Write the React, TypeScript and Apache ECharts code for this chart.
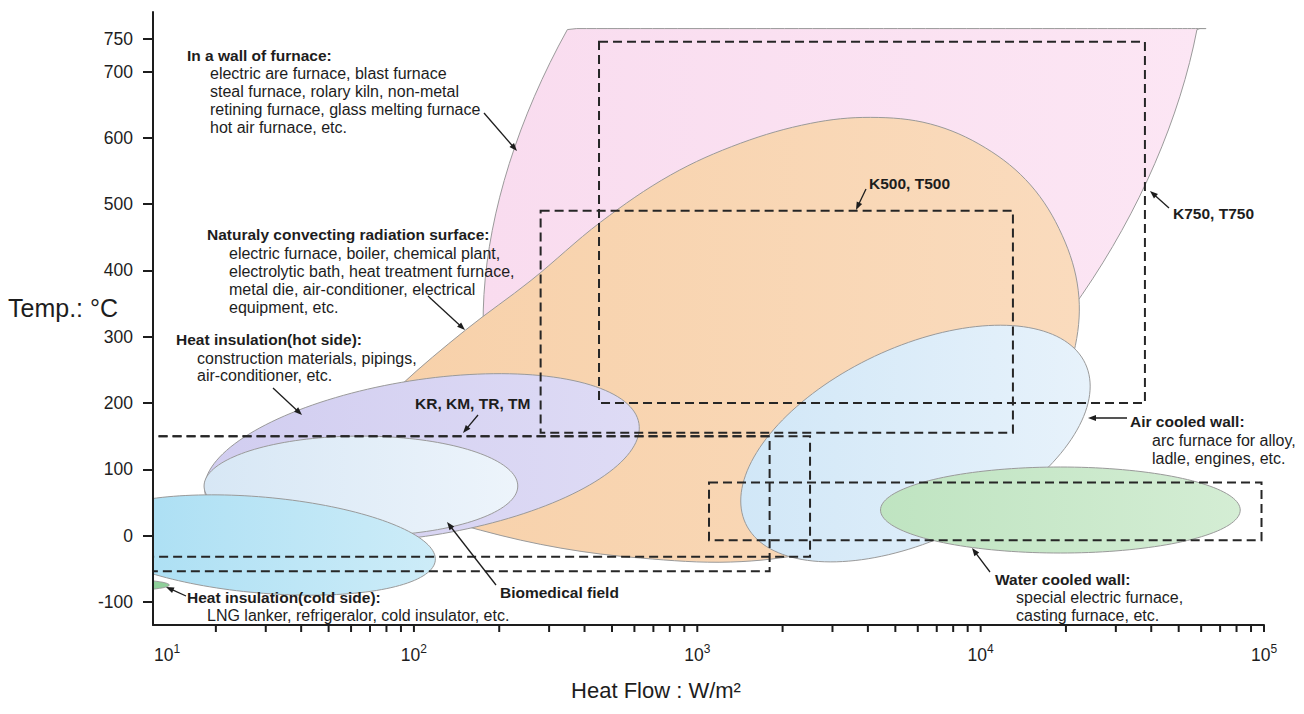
import React, { useEffect, useRef } from 'react';
import * as echarts from 'echarts';

// ---------------- axes ----------------
const X_MIN = 12;
const X_MAX = 100000;
const Y_MIN = -135;
const Y_MAX = 790;
const Y_TICK_VALUES = [-100, 0, 100, 200, 300, 400, 500, 600, 700, 750];
const X_TICK_DECADES = [10, 100, 1000, 10000];
const X_TICK_STEPS = [2, 3, 4, 5, 6, 7, 8, 9, 10];
const X_TITLE = 'Heat Flow : W/m²';
const Y_TITLE = 'Temp.: °C';

// ---------------- application regions ----------------
// ellipse: centre heat flow (W/m²), centre temperature (°C),
// semi-axis u (decades, °C), conjugate semi-axis v (decades, °C)
const FURNACE_WALL = [3311, 612, 1.1425, 0, 0.5677, 648.9];
const FURNACE_WALL_TEMP_LIMITS = [250, 765];
const HOT_SIDE_INSULATION = [106.7, 117, 0.766, 51.9, 0.043, -116.2];
const BIOMEDICAL_FIELD = [65, 74.7, 0.5536, 0, 0, -75.4];
const COLD_SIDE_EDGE = [8.55, -74.7, 0.2045, 0, 0, 9];
const COLD_SIDE_INSULATION = [28.9, -14.3, 0.6146, -23.1, -0.0148, -72.1];
const AIR_COOLED_WALL = [5888, 138.8, 0.5994, 120.7, 0.1446, -131.6];
const WATER_COOLED_WALL = [19115, 38.5, 0.6347, 0, 0, 64.9];

// naturally convecting radiation surface: outline (heat flow W/m², temp °C)
const NATURAL_CONVECTION_HF = [51, 90, 152, 259, 456, 805, 1422, 2512, 4085, 6650, 10400, 15000, 19400, 22100, 21600, 18400, 13300, 8490, 4810, 2512, 1312, 631, 330, 172, 90, 60];
const NATURAL_CONVECTION_TEMP = [121, 227, 310, 385, 473, 544, 592, 622, 631, 621, 585, 529, 453, 370, 287, 204, 129, 61, 8, -26, -40, -34, -19, 8, 46, 84];

// ---------------- product ranges: heat flow min, max, temp min, max ----------------
const RANGE_K750 = [450, 38000, 200, 745];
const RANGE_K500 = [280, 13000, 155, 490];
const RANGE_KR_A = [10, 2500, -32, 150];
const RANGE_KR_B = [10, 1800, -54, 150];
const RANGE_WATER = [1100, 98000, -7, 80];

// ---------------- styling / layout ----------------
const FONT = '"Liberation Sans", Arial, Helvetica, sans-serif';
const INK = '#1d1d1d';

const REGIONS: any[] = [
  { ellipse: FURNACE_WALL, limits: FURNACE_WALL_TEMP_LIMITS, colors: ['#f9dcef', '#fce6f4'] },
  { hf: NATURAL_CONVECTION_HF, temp: NATURAL_CONVECTION_TEMP, colors: ['#f7d0a8', '#fadbbd'] },
  { ellipse: HOT_SIDE_INSULATION, colors: ['#d1cdf0', '#dedbf5'] },
  { ellipse: BIOMEDICAL_FIELD, colors: ['#d7e7f5', '#edf4fb'] },
  { ellipse: COLD_SIDE_EDGE, colors: ['#8fcf9a', '#8fcf9a'] },
  { ellipse: COLD_SIDE_INSULATION, colors: ['#a6ddf3', '#cdecf8'] },
  { ellipse: AIR_COOLED_WALL, colors: ['#d1e7f7', '#e7f2fb'] },
  { ellipse: WATER_COOLED_WALL, colors: ['#bfe4c1', '#d4edd4'] },
];

const RANGES = [RANGE_K750, RANGE_K500, RANGE_KR_A, RANGE_KR_B, RANGE_WATER];

// annotation text lines: x, y (middle), text, bold
const NOTE_LINES: [number, number, string, boolean][] = [
  [187, 55, 'In a wall of furnace:', true],
  [210, 73, 'electric are furnace, blast furnace', false],
  [210, 91, 'steal furnace, rolary kiln, non-metal', false],
  [210, 109, 'retining furnace, glass melting furnace', false],
  [210, 127.5, 'hot air furnace, etc.', false],
  [207, 234, 'Naturaly convecting radiation surface:', true],
  [229, 253, 'electric furnace, boiler, chemical plant,', false],
  [229, 271.5, 'electrolytic bath, heat treatment furnace,', false],
  [229, 289, 'metal die, air-conditioner, electrical', false],
  [229, 307, 'equipment, etc.', false],
  [176, 339, 'Heat insulation(hot side):', true],
  [197, 358, 'construction materials, pipings,', false],
  [197, 375.5, 'air-conditioner, etc.', false],
  [415, 403, 'KR, KM, TR, TM', true],
  [869, 183, 'K500, T500', true],
  [1173, 213, 'K750, T750', true],
  [1130, 421, 'Air cooled wall:', true],
  [1152, 440, 'arc furnace for alloy,', false],
  [1152, 458, 'ladle, engines, etc.', false],
  [995, 579, 'Water cooled wall:', true],
  [1016, 597, 'special electric furnace,', false],
  [1016, 615, 'casting furnace, etc.', false],
  [500, 592, 'Biomedical field', true],
  [187, 597, 'Heat insulation(cold side):', true],
  [207, 615, 'LNG lanker, refrigeralor, cold insulator, etc.', false],
];

// arrows: from (x1, y1) to tip (x2, y2)
const ARROWS: [number, number, number, number][] = [
  [484, 113, 517, 151],
  [428, 296, 465, 330],
  [273, 388, 302, 415],
  [478, 415, 463, 433],
  [866, 189, 856, 210],
  [1169, 208, 1150, 191],
  [1127, 418, 1088, 418],
  [990, 572, 972, 548],
  [496, 585, 447, 522],
  [186, 596, 166, 587],
];

function ellipseRing(e: number[], limits?: number[]) {
  const [hf, t, ud, ut, vd, vt] = e;
  const lx = Math.log10(hf);
  const out: number[][] = [];
  const n = 160;
  for (let k = 0; k < n; k++) {
    const a = (k / n) * Math.PI * 2;
    const c = Math.cos(a);
    const s = Math.sin(a);
    let tt = t + ut * c + vt * s;
    if (limits) tt = Math.min(limits[1], Math.max(limits[0], tt));
    out.push([Math.pow(10, lx + ud * c + vd * s), tt]);
  }
  return out;
}

function arrowGraphics([x1, y1, x2, y2]: [number, number, number, number]) {
  const dx = x2 - x1;
  const dy = y2 - y1;
  const len = Math.sqrt(dx * dx + dy * dy);
  const ux = dx / len;
  const uy = dy / len;
  const hl = 8;
  const hw = 3;
  const bx = x2 - ux * hl;
  const by = y2 - uy * hl;
  return [
    {
      type: 'line', z: 100, silent: true,
      shape: { x1, y1, x2: bx + ux * 2, y2: by + uy * 2 },
      style: { stroke: INK, lineWidth: 1.3 },
    },
    {
      type: 'polygon', z: 100, silent: true,
      shape: { points: [[x2, y2], [bx - uy * hw, by + ux * hw], [bx + uy * hw, by - ux * hw]] },
      style: { fill: INK },
    },
  ];
}

const xTickValues: number[] = [];
X_TICK_DECADES.forEach((d) => X_TICK_STEPS.forEach((m) => xTickValues.push(d * m)));

const option: any = {
  animation: false,
  grid: { left: 153, right: 40, top: 12, bottom: 89 },
  xAxis: {
    type: 'log',
    logBase: 10,
    min: X_MIN,
    max: X_MAX,
    z: 10,
    axisLine: { show: true, onZero: false, lineStyle: { color: INK, width: 2 } },
    axisTick: { show: false },
    minorTick: { show: false },
    splitLine: { show: false },
    axisLabel: {
      margin: 18,
      formatter: (v: number) => {
        const e = Math.round(Math.log10(v));
        return v < 50 ? `{first|10}{sup|${e}}` : `{base|10}{sup|${e}}`;
      },
      rich: {
        base: { fontSize: 17.5, fontFamily: FONT, color: INK, lineHeight: 21, verticalAlign: 'bottom' },
        first: { fontSize: 17.5, fontFamily: FONT, color: INK, lineHeight: 21, verticalAlign: 'bottom', padding: [0, 0, 0, 28] },
        sup: { fontSize: 12, fontFamily: FONT, color: INK, lineHeight: 13, verticalAlign: 'top' },
      },
    },
  },
  yAxis: {
    type: 'value',
    min: Y_MIN,
    max: Y_MAX,
    z: 10,
    axisLine: { show: true, onZero: false, lineStyle: { color: INK, width: 2 } },
    axisTick: { show: true, length: 10, customValues: Y_TICK_VALUES, lineStyle: { color: INK, width: 2 } },
    axisLabel: { customValues: Y_TICK_VALUES, margin: 20, fontSize: 17.5, color: INK, fontFamily: FONT },
    splitLine: { show: false },
  },
  series: [
    {
      type: 'custom',
      name: 'regions',
      clip: true,
      silent: true,
      data: REGIONS.map((r, i) =>
        r.ellipse ? [Math.max(r.ellipse[0], X_MIN), r.ellipse[1], i] : [1000, 300, i]
      ),
      renderItem: (params: any, api: any) => {
        const r = REGIONS[api.value(2)];
        let pts: number[][];
        if (r.ellipse) {
          pts = ellipseRing(r.ellipse, r.limits).map((p) => api.coord(p));
        } else {
          pts = r.hf.map((h: number, k: number) => api.coord([h, r.temp[k]]));
        }
        return {
          type: 'polygon',
          shape: { points: pts, smooth: r.ellipse ? 0 : 0.35 },
          style: {
            fill: new echarts.graphic.LinearGradient(0, 0, 1, 0, [
              { offset: 0, color: r.colors[0] },
              { offset: 1, color: r.colors[1] },
            ]),
            stroke: '#9a9a9a',
            lineWidth: 1,
          },
        };
      },
    },
    {
      type: 'custom',
      name: 'ranges',
      clip: true,
      silent: true,
      data: RANGES.map((r, i) => [Math.max(r[0], X_MIN), r[2], i]),
      renderItem: (params: any, api: any) => {
        const r = RANGES[api.value(2)];
        const pts = [
          api.coord([r[0], r[3]]),
          api.coord([r[1], r[3]]),
          api.coord([r[1], r[2]]),
          api.coord([r[0], r[2]]),
        ];
        return {
          type: 'polygon',
          shape: { points: pts },
          style: { fill: 'none', stroke: '#262626', lineWidth: 2, lineDash: [9, 5] },
        };
      },
    },
    {
      type: 'custom',
      name: 'xticks',
      clip: false,
      silent: true,
      data: xTickValues.map((v) => [v, Y_MIN]),
      renderItem: (params: any, api: any) => {
        const p = api.coord([api.value(0), Y_MIN]);
        return {
          type: 'line',
          shape: { x1: p[0], y1: p[1], x2: p[0], y2: p[1] + 7 },
          style: { stroke: INK, lineWidth: 2 },
        };
      },
    },
  ],
  graphic: [
    {
      type: 'text', x: 8, y: 308, z: 100, silent: true,
      style: { text: Y_TITLE, fill: INK, font: `25px ${FONT}`, textAlign: 'left', textVerticalAlign: 'middle', align: 'left', verticalAlign: 'middle' },
    },
    {
      type: 'text', x: 656, y: 690, z: 100, silent: true,
      style: { text: X_TITLE, fill: INK, font: `22px ${FONT}`, textAlign: 'center', textVerticalAlign: 'middle', align: 'center', verticalAlign: 'middle' },
    },
    ...NOTE_LINES.map(([x, y, text, bold]) => ({
      type: 'text', x, y, z: 100, silent: true,
      style: {
        text,
        fill: INK,
        font: `${bold ? 'bold 15.5px' : '16px'} ${FONT}`,
        textAlign: 'left', textVerticalAlign: 'middle', align: 'left', verticalAlign: 'middle',
      },
    })),
    ...ARROWS.flatMap((a) => arrowGraphics(a)),
  ],
};

export default function App() {
  const ref = useRef<HTMLDivElement>(null);
  useEffect(() => {
    document.body.style.margin = '0';
    const chart = echarts.init(ref.current as HTMLDivElement, null, { renderer: 'svg' });
    chart.setOption(option);
    return () => chart.dispose();
  }, []);
  return <div ref={ref} style={{ width: 1304, height: 714 }} />;
}
